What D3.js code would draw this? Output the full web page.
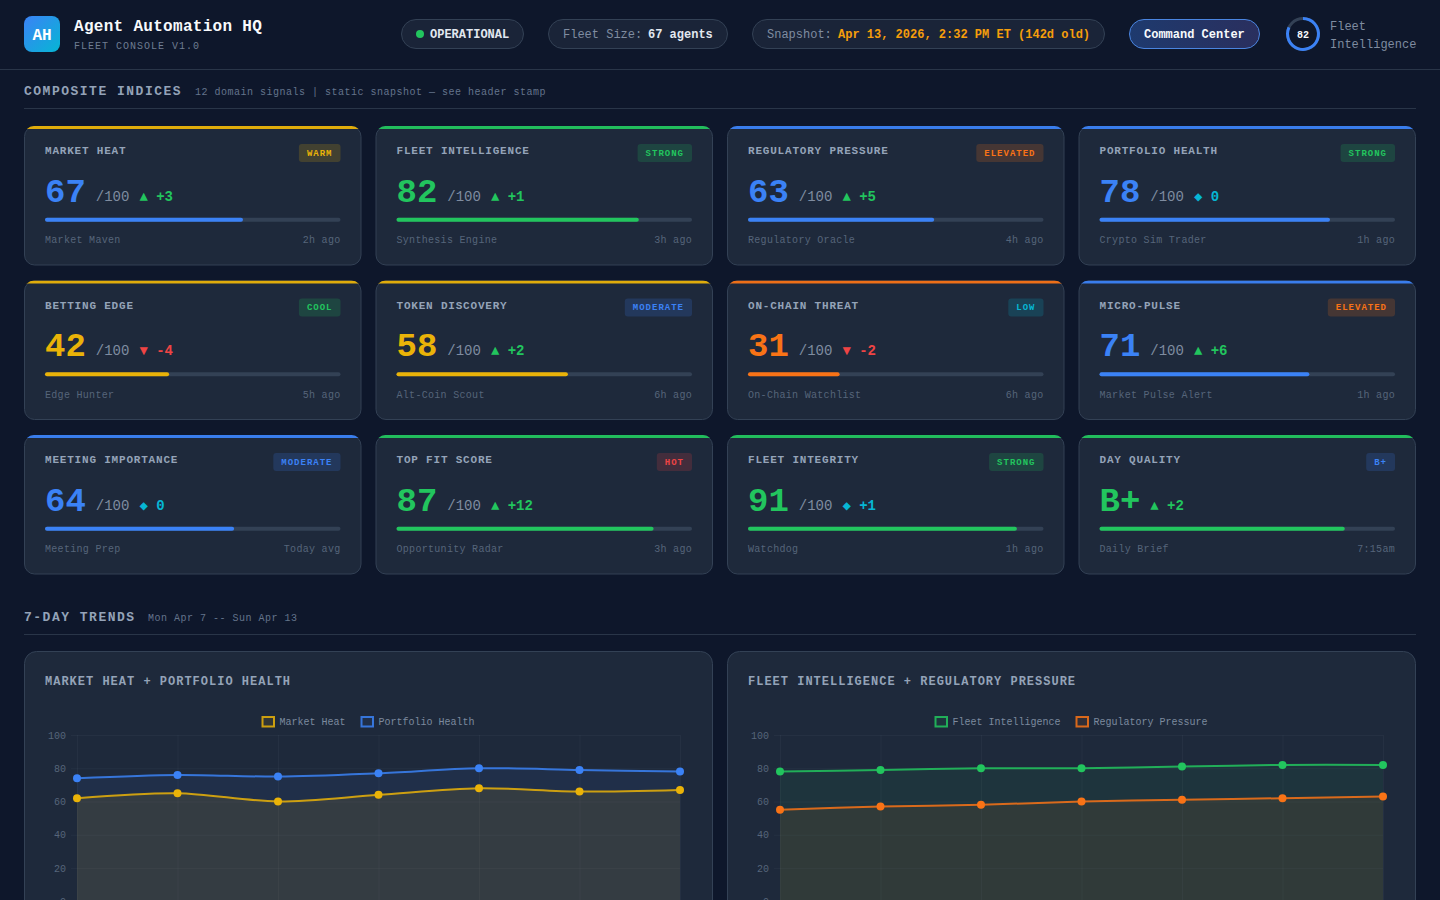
<!DOCTYPE html>
<html>
<head>
<meta charset="utf-8">
<title>Agent Automation HQ</title>
<script src="https://cdn.jsdelivr.net/npm/d3@7/dist/d3.min.js"></script>
<style>
    html, body { margin: 0; padding: 0; background: #0e172b; overflow: hidden; }
    svg { display: block; }
    text { font-family: "Liberation Mono", "Courier New", monospace; }
</style>
</head>
<body>
<div id="dashboard"></div>
<script>
// ============ DATA ============
const cardNames = ["MARKET HEAT", "FLEET INTELLIGENCE", "REGULATORY PRESSURE", "PORTFOLIO HEALTH",
    "BETTING EDGE", "TOKEN DISCOVERY", "ON-CHAIN THREAT", "MICRO-PULSE",
    "MEETING IMPORTANCE", "TOP FIT SCORE", "FLEET INTEGRITY", "DAY QUALITY"];
const cardScores = [67, 82, 63, 78, 42, 58, 31, 71, 64, 87, 91, 83];
const cardLabels = ["67", "82", "63", "78", "42", "58", "31", "71", "64", "87", "91", "B+"];
const cardDeltas = ["+3", "+1", "+5", "0", "-4", "+2", "-2", "+6", "0", "+12", "+1", "+2"];
const cardArrows = ["▲", "▲", "▲", "◆", "▼", "▲", "▼", "▲", "◆", "▲", "◆", "▲"];
const cardBadges = ["WARM", "STRONG", "ELEVATED", "STRONG", "COOL", "MODERATE", "LOW", "ELEVATED",
    "MODERATE", "HOT", "STRONG", "B+"];
const cardAccents = ["yellow", "green", "blue", "blue", "yellow", "yellow", "orange", "blue",
    "blue", "green", "green", "green"];
const cardAgents = ["Market Maven", "Synthesis Engine", "Regulatory Oracle", "Crypto Sim Trader",
    "Edge Hunter", "Alt-Coin Scout", "On-Chain Watchlist", "Market Pulse Alert",
    "Meeting Prep", "Opportunity Radar", "Watchdog", "Daily Brief"];
const cardAges = ["2h ago", "3h ago", "4h ago", "1h ago", "5h ago", "6h ago", "6h ago", "1h ago",
    "Today avg", "3h ago", "1h ago", "7:15am"];

const days = ["Mon", "Tue", "Wed", "Thu", "Fri", "Sat", "Sun"];
const yTicks = [0, 20, 40, 60, 80, 100];
const marketHeat = [62, 65, 60, 64, 68, 66, 67];
const portfolioHealth = [74, 76, 75, 77, 80, 79, 78];
const fleetIntelligence = [78, 79, 80, 80, 81, 82, 82];
const regulatoryPressure = [55, 57, 58, 60, 61, 62, 63];

// ============ COLORS ============
const palette = {
    blue: "#3b82f6", green: "#22c55e", yellow: "#eab308",
    orange: "#f97316", red: "#ef4444", cyan: "#06b6d4"
};
const badgeColors = {
    WARM: "yellow", STRONG: "green", ELEVATED: "orange", COOL: "green",
    MODERATE: "blue", LOW: "cyan", HOT: "red", "B+": "blue"
};
const deltaColors = { "▲": "#22c55e", "▼": "#ef4444", "◆": "#06b6d4" };
const scoreColor = v => v >= 80 ? palette.green : v >= 60 ? palette.blue : v >= 40 ? palette.yellow : palette.orange;

const cardFill = "#1e293b";
const cardBorder = "#334155";
const pillFill = "#1a2438";
const dimText = "#7f8ca0";

// ============ SVG ============
const svg = d3.select("#dashboard").append("svg")
    .attr("width", 1440)
    .attr("height", 900);

const defs = svg.append("defs");

const logoGrad = defs.append("linearGradient").attr("id", "logoGrad")
    .attr("x1", 0).attr("y1", 0).attr("x2", 1).attr("y2", 1);
logoGrad.append("stop").attr("offset", "0%").attr("stop-color", "#3b82f6");
logoGrad.append("stop").attr("offset", "100%").attr("stop-color", "#06b6d4");

const cmdGrad = defs.append("linearGradient").attr("id", "cmdGrad")
    .attr("x1", 0).attr("y1", 0).attr("x2", 1).attr("y2", 0);
cmdGrad.append("stop").attr("offset", "0%").attr("stop-color", "#1e3a6e");
cmdGrad.append("stop").attr("offset", "100%").attr("stop-color", "#2a2f5e");

svg.append("rect").attr("width", 1440).attr("height", 900).attr("fill", "#0e172b");

// Small helper for the many text labels
function label(parent, x, y, str, size, color, opts = {}) {
    return parent.append("text")
        .attr("x", x)
        .attr("y", y)
        .attr("font-size", size)
        .attr("fill", color)
        .attr("font-weight", opts.bold ? 700 : 400)
        .attr("letter-spacing", opts.spacing || 0)
        .attr("text-anchor", opts.anchor || "start")
        .text(str);
}

function pill(x, w, fill, stroke) {
    svg.append("rect")
        .attr("x", x + 0.5).attr("y", 19.5)
        .attr("width", w - 1).attr("height", 29)
        .attr("rx", 14.5)
        .attr("fill", fill)
        .attr("stroke", stroke);
}

// ============ HEADER ============
svg.append("rect").attr("x", 24).attr("y", 16).attr("width", 36).attr("height", 36)
    .attr("rx", 8).attr("fill", "url(#logoGrad)");
label(svg, 42, 40, "AH", 16, "#ffffff", { bold: true, anchor: "middle" });
label(svg, 74, 31, "Agent Automation HQ", 16, "#f8fafc", { bold: true, spacing: 0.3 });
label(svg, 74, 49, "FLEET CONSOLE V1.0", 10, "#6f7d92", { spacing: 1 });

pill(401, 123, pillFill, cardBorder);
svg.append("circle").attr("cx", 420).attr("cy", 34).attr("r", 4).attr("fill", "#22c55e");
label(svg, 430, 38, "OPERATIONAL", 12, "#e2e8f0", { bold: true });

pill(548, 180, pillFill, cardBorder);
label(svg, 563, 38, "Fleet Size:", 12, dimText);
label(svg, 648, 38, "67 agents", 12, "#e2e8f0", { bold: true });

pill(752, 353, pillFill, cardBorder);
label(svg, 767, 38, "Snapshot:", 12, dimText);
label(svg, 838, 38, "Apr 13, 2026, 2:32 PM ET (142d old)", 12, "#f59e0b", { bold: true });

pill(1129, 131, "url(#cmdGrad)", "#4a85e0");
label(svg, 1144, 38, "Command Center", 12, "#f8fafc", { bold: true });

// Fleet score ring, same value as the Fleet Intelligence card
const ringArc = d3.arc().innerRadius(14).outerRadius(17);
const ringScale = d3.scaleLinear().domain([0, 100]).range([0, 2 * Math.PI]);
const ring = svg.append("g").attr("transform", "translate(1303,34)");
ring.append("path").attr("fill", "#334155")
    .attr("d", ringArc({ startAngle: 0, endAngle: 2 * Math.PI }));
ring.append("path").attr("fill", palette.blue)
    .attr("d", ringArc({ startAngle: 0, endAngle: ringScale(cardScores[1]) }));
label(ring, 0, 3.5, cardLabels[1], 10, "#f8fafc", { bold: true, anchor: "middle" });
label(svg, 1330, 30, "Fleet", 12, dimText);
label(svg, 1330, 48, "Intelligence", 12, dimText);

svg.append("line").attr("x1", 0).attr("x2", 1440).attr("y1", 69.5).attr("y2", 69.5).attr("stroke", "#293548");

// ============ SECTION HEADERS ============
function section(y, title, sub, subX) {
    label(svg, 24, y, title, 13, "#94a3b8", { bold: true, spacing: 1.5 });
    label(svg, subX, y, sub, 10, "#64748b", { spacing: 0.5 });
    svg.append("line").attr("x1", 24).attr("x2", 1416).attr("y1", y + 13.5).attr("y2", y + 13.5)
        .attr("stroke", "#293548");
}
section(95, "COMPOSITE INDICES", "12 domain signals | static snapshot — see header stamp", 195);
section(621, "7-DAY TRENDS", "Mon Apr 7 -- Sun Apr 13", 148);

// ============ INDEX CARDS ============
const cardW = 337.5;
const cardH = 139.5;
const barW = cardW - 42;
const barScale = d3.scaleLinear().domain([0, 100]).range([0, barW]);

defs.append("clipPath").attr("id", "cardClip")
    .append("rect").attr("width", cardW).attr("height", cardH).attr("rx", 10);

cardNames.forEach(function(name, i) {
    const col = i % 4;
    const row = Math.floor(i / 4);
    const g = svg.append("g")
        .attr("transform", `translate(${24 + col * 351.5},${126 + row * 154.5})`);

    g.append("rect")
        .attr("x", 0.5).attr("y", 0.5)
        .attr("width", cardW - 1).attr("height", cardH - 1)
        .attr("rx", 10)
        .attr("fill", cardFill)
        .attr("stroke", cardBorder);

    // Colored top strip, cut by the card corners
    g.append("rect")
        .attr("width", cardW).attr("height", 3)
        .attr("fill", palette[cardAccents[i]])
        .attr("fill-opacity", 0.95)
        .attr("clip-path", "url(#cardClip)");

    label(g, 21, 28, name, 11, "#94a3b8", { bold: true, spacing: 0.8 });

    // Badge
    const badge = cardBadges[i];
    const badgeColor = palette[badgeColors[badge]];
    const badgeW = badge.length * 6.4 + 16;
    g.append("rect")
        .attr("x", cardW - 21 - badgeW).attr("y", 18)
        .attr("width", badgeW).attr("height", 18)
        .attr("rx", 3)
        .attr("fill", badgeColor)
        .attr("fill-opacity", 0.18);
    label(g, cardW - 21 - badgeW + 8, 29.5, badge, 9, badgeColor, { bold: true, spacing: 1 });

    // Score, out-of-100 and delta
    const value = cardScores[i];
    const text = cardLabels[i];
    label(g, 21, 75.5, text, 34, scoreColor(value), { bold: true });
    let x = 21 + text.length * 20.4 + 10;
    if (text !== "B+") {
        label(g, x, 74.5, "/100", 14, dimText);
        x += 33.6 + 10;
    }
    const arrow = cardArrows[i];
    label(g, x, 74.5, arrow, 14, deltaColors[arrow], { bold: true });
    label(g, x + 16.8, 74.5, cardDeltas[i], 14, deltaColors[arrow], { bold: true });

    // Progress bar
    g.append("rect").attr("x", 21).attr("y", 91.7).attr("width", barW).attr("height", 4)
        .attr("rx", 2).attr("fill", "#334155");
    g.append("rect").attr("x", 21).attr("y", 91.7).attr("width", barScale(value)).attr("height", 4)
        .attr("rx", 2).attr("fill", scoreColor(value));

    // Footer
    label(g, 21, 117, cardAgents[i], 10, "#56657a", { spacing: 0.3 });
    label(g, cardW - 21, 117, cardAges[i], 10, "#56657a", { spacing: 0.3, anchor: "end" });
});

// ============ TREND CHARTS ============
function trendChart(left, title, first, second, legendX) {
    const g = svg.append("g").attr("transform", `translate(${left},651)`);

    g.append("rect")
        .attr("x", 0.5).attr("y", 0.5)
        .attr("width", 688).attr("height", 420)
        .attr("rx", 12)
        .attr("fill", cardFill)
        .attr("stroke", cardBorder);

    label(g, 21, 34, title, 12, "#94a3b8", { bold: true, spacing: 1 });

    // Scales
    const xScale = d3.scalePoint().domain(days).range([53, 656]);
    const yScale = d3.scaleLinear().domain([0, 100]).range([250.3, 84]);

    // Y axis with horizontal grid
    const yAxis = g.append("g")
        .attr("transform", "translate(53,0)")
        .call(d3.axisLeft(yScale).tickValues(yTicks).tickSize(6).tickPadding(5));
    yAxis.select(".domain").remove();
    yAxis.selectAll("line").clone()
        .attr("x2", 603);
    yAxis.selectAll("line").attr("stroke", "#94a3b8").attr("stroke-opacity", 0.06);
    yAxis.selectAll("text")
        .attr("fill", "#56657a")
        .attr("font-size", 10)
        .attr("font-family", "Liberation Mono");

    // X axis: the day labels fall below the fold, only the grid is in view
    const xAxis = g.append("g")
        .attr("transform", "translate(0,250.3)")
        .call(d3.axisBottom(xScale).tickSizeOuter(0).tickSize(6).tickFormat(""));
    xAxis.select(".domain").remove();
    xAxis.selectAll("line").clone()
        .attr("y2", -166.3);
    xAxis.selectAll("line").attr("stroke", "#94a3b8").attr("stroke-opacity", 0.06);

    const curve = d3.curveCardinal.tension(0.1);
    const line = d3.line()
        .x((d, i) => xScale(days[i]))
        .y(d => yScale(d))
        .curve(curve);
    const area = d3.area()
        .x((d, i) => xScale(days[i]))
        .y0(yScale(0))
        .y1(d => yScale(d))
        .curve(curve);

    [second, first].forEach(function(s) {
        g.append("path")
            .datum(s.values)
            .attr("fill", s.color)
            .attr("fill-opacity", s.fillAlpha)
            .attr("d", area);
    });
    [second, first].forEach(function(s) {
        g.append("path")
            .datum(s.values)
            .attr("fill", "none")
            .attr("stroke", s.color)
            .attr("stroke-opacity", 0.85)
            .attr("stroke-width", 2)
            .attr("d", line);
        g.selectAll(null)
            .data(s.values)
            .enter()
            .append("circle")
            .attr("cx", (d, i) => xScale(days[i]))
            .attr("cy", d => yScale(d))
            .attr("r", 4)
            .attr("fill", s.color);
    });

    // Legend
    [first, second].forEach(function(s, i) {
        g.append("rect")
            .attr("x", legendX[i] + 1).attr("y", 66)
            .attr("width", 11.5).attr("height", 9.5)
            .attr("fill", s.color).attr("fill-opacity", s.fillAlpha)
            .attr("stroke", s.color).attr("stroke-opacity", 0.85).attr("stroke-width", 2);
        label(g, legendX[i] + 18, 74, s.name, 10, "#7c8a9e");
    });
}

trendChart(24, "MARKET HEAT + PORTFOLIO HEALTH",
    { name: "Market Heat", values: marketHeat, color: palette.yellow, fillAlpha: 0.1 },
    { name: "Portfolio Health", values: portfolioHealth, color: palette.blue, fillAlpha: 0.08 },
    [237.5, 336.5]);

trendChart(727, "FLEET INTELLIGENCE + REGULATORY PRESSURE",
    { name: "Fleet Intelligence", values: fleetIntelligence, color: palette.green, fillAlpha: 0.08 },
    { name: "Regulatory Pressure", values: regulatoryPressure, color: palette.orange, fillAlpha: 0.09 },
    [207.5, 348.5]);
</script>
</body>
</html>
